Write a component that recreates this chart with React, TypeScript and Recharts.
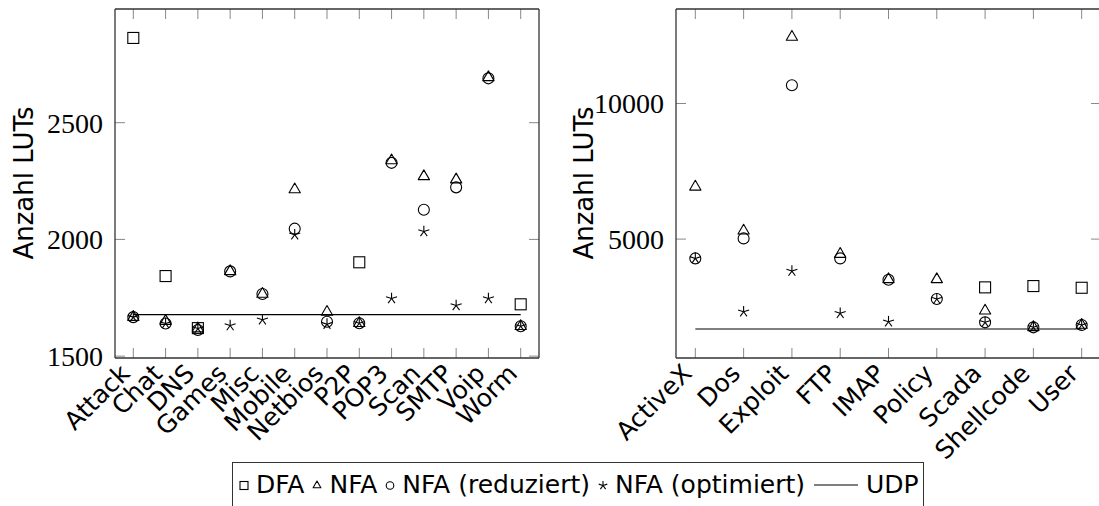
import { ComposedChart, Scatter, Line, XAxis, YAxis, ReferenceLine } from "recharts";

// left plot: general rule groups
const leftCats = ["Attack", "Chat", "DNS", "Games", "Misc", "Mobile", "Netbios", "P2P", "POP3", "Scan", "SMTP", "Voip", "Worm"];
const leftDfa = [2863, 1843, 1620, null, null, null, null, 1902, null, null, null, null, 1722];
const leftNfa = [1667, 1650, 1618, 1863, 1766, 2214, 1689, 1641, 2338, 2270, 2256, 2694, 1628];
const leftRed = [1667, 1640, 1612, 1863, 1766, 2046, 1647, 1641, 2328, 2127, 2223, 2690, 1628];
const leftOpt = [1667, 1640, 1618, 1631, 1656, 2020, 1637, 1641, 1747, 2034, 1717, 1747, 1628];
const leftUdp = [1678, 1678, 1678, 1678, 1678, 1678, 1678, 1678, 1678, 1678, 1678, 1678, 1678];
const leftTicks = [1500, 2000, 2500];

// right plot: larger rule groups
const rightCats = ["ActiveX", "Dos", "Exploit", "FTP", "IMAP", "Policy", "Scada", "Shellcode", "User"];
const rightDfa = [null, null, null, null, null, null, 3220, 3268, 3205];
const rightNfa = [6927, 5306, 12456, 4447, 3515, 3515, 2358, 1746, 1831];
const rightRed = [4288, 5025, 10675, 4288, 3500, 2789, 1930, 1746, 1831];
const rightOpt = [4288, 2321, 3821, 2262, 1953, 2789, 1930, 1746, 1831];
const rightUdp = [1684, 1684, 1684, 1684, 1684, 1684, 1684, 1684, 1684];
const rightTicks = [5000, 10000];

const SANS = "DejaVu Sans";
const SERIF = "Liberation Serif";
const FRAME = "#333";
const TICK = "#888";

const CH_W = 560;
const CH_H = 506;
const TOP = 9;
const BOTTOM_AX = 148;
const TICK_LEN = 10;

function mark(kind: string, cx: number, cy: number, s: number, key?: string) {
    const sw = 1.1;
    if (kind === "square") {
        return <rect key={key} x={cx - s} y={cy - s} width={2 * s} height={2 * s} fill="none" stroke="#000" strokeWidth={sw} />;
    }
    if (kind === "triangle") {
        const pts = `${cx},${cy - s} ${cx - 0.866 * s},${cy + 0.5 * s} ${cx + 0.866 * s},${cy + 0.5 * s}`;
        return <polygon key={key} points={pts} fill="none" stroke="#000" strokeWidth={sw} strokeLinejoin="round" />;
    }
    if (kind === "circle") {
        return <circle key={key} cx={cx} cy={cy} r={s} fill="none" stroke="#000" strokeWidth={sw} />;
    }
    // star: five spokes from the centre
    const spokes = [0, 1, 2, 3, 4].map((k) => {
        const a = (-90 + k * 72) * Math.PI / 180;
        return <line key={k} x1={cx} y1={cy} x2={cx + s * Math.cos(a)} y2={cy + s * Math.sin(a)} stroke="#000" strokeWidth={sw} />;
    });
    return <g key={key}>{spokes}</g>;
}

const SIZES: any = { square: 5.5, triangle: 6.5, circle: 5.5, star: 5.8 };

function shapeFor(kind: string, field: string) {
    return (p: any) => {
        const v = p.payload ? p.payload[field] : null;
        if (v == null || !Number.isFinite(p.cx) || !Number.isFinite(p.cy)) return <g />;
        return mark(kind, p.cx, p.cy, SIZES[kind]);
    };
}

const CatTick = (props: any) => {
    const { x, y, payload, cats } = props;
    const tx = x - 2;
    return (
        <text x={tx} y={y} transform={`rotate(-45 ${tx} ${y})`} textAnchor="end"
            fontFamily={SANS} fontSize={25} fill="#000">
            {cats[payload.value]}
        </text>
    );
};

const YTitle = () => (
    <text x={33} y={183} transform="rotate(-90 33 183)" textAnchor="middle"
        fontFamily={SANS} fontSize={26} fill="#000">
        Anzahl LUTs
    </text>
);

function Panel({ cats, dfa, nfa, red, opt, udp, yDomain, yTicks, xPad, leftW, rightW }: any) {
    const rows = cats.map((name: string, i: number) => ({
        i, name, dfa: dfa[i], nfa: nfa[i], red: red[i], opt: opt[i], udp: udp[i]
    }));
    const idx = cats.map((_: string, i: number) => i);
    const [x0, x1] = [-xPad, cats.length - 1 + xPad];
    const [y0, y1] = yDomain;

    // tick length (px) expressed in data units of each axis
    const plotW = CH_W - leftW - rightW;
    const plotH = CH_H - TOP - BOTTOM_AX;
    const dx = TICK_LEN * (x1 - x0) / plotW;
    const dy = TICK_LEN * (y1 - y0) / plotH;

    const ax = { xAxisId: "b", yAxisId: "l", ifOverflow: "visible" as const };
    const frame = { stroke: FRAME, strokeWidth: 1.3 };
    const tick = { stroke: TICK, strokeWidth: 1 };

    return (
        <ComposedChart width={CH_W} height={CH_H} data={rows} margin={{ top: TOP, right: 0, bottom: 0, left: 0 }}>
            <XAxis xAxisId="b" type="number" dataKey="i" domain={[x0, x1]} ticks={idx} interval={0}
                allowDataOverflow height={BOTTOM_AX} tickSize={0} tickMargin={17}
                axisLine={false} tickLine={false}
                tick={(p: any) => <CatTick {...p} cats={cats} />} />
            <YAxis yAxisId="l" type="number" domain={yDomain} ticks={yTicks} interval={0}
                allowDataOverflow width={leftW} tickSize={0} tickMargin={12}
                axisLine={false} tickLine={false}
                tick={{ fontFamily: SERIF, fontSize: 28, fill: "#000" }}
                label={<YTitle />} />
            <YAxis yAxisId="r" orientation="right" type="number" domain={yDomain} ticks={yTicks}
                interval={0} allowDataOverflow width={rightW} tick={false} axisLine={false} tickLine={false} />

            {idx.map((i: number) => (
                <ReferenceLine key={`tb${i}`} {...ax} {...tick} segment={[{ x: i, y: y0 }, { x: i, y: y0 + dy }]} />
            ))}
            {idx.map((i: number) => (
                <ReferenceLine key={`tt${i}`} {...ax} {...tick} segment={[{ x: i, y: y1 }, { x: i, y: y1 - dy }]} />
            ))}
            {yTicks.map((t: number) => (
                <ReferenceLine key={`tl${t}`} {...ax} {...tick} segment={[{ x: x0, y: t }, { x: x0 + dx, y: t }]} />
            ))}
            {yTicks.map((t: number) => (
                <ReferenceLine key={`tr${t}`} {...ax} {...tick} segment={[{ x: x1, y: t }, { x: x1 - dx, y: t }]} />
            ))}
            <ReferenceLine {...ax} {...frame} segment={[{ x: x0, y: y0 }, { x: x1, y: y0 }]} />
            <ReferenceLine {...ax} {...frame} segment={[{ x: x0, y: y1 }, { x: x1, y: y1 }]} />
            <ReferenceLine {...ax} {...frame} segment={[{ x: x0, y: y0 }, { x: x0, y: y1 }]} />
            <ReferenceLine {...ax} {...frame} segment={[{ x: x1, y: y0 }, { x: x1, y: y1 }]} />

            <Line xAxisId="b" yAxisId="l" dataKey="udp" dot={false} stroke="#000"
                strokeWidth={1.1} isAnimationActive={false} />
            <Scatter xAxisId="b" yAxisId="l" dataKey="dfa" shape={shapeFor("square", "dfa")} isAnimationActive={false} />
            <Scatter xAxisId="b" yAxisId="l" dataKey="nfa" shape={shapeFor("triangle", "nfa")} isAnimationActive={false} />
            <Scatter xAxisId="b" yAxisId="l" dataKey="red" shape={shapeFor("circle", "red")} isAnimationActive={false} />
            <Scatter xAxisId="b" yAxisId="l" dataKey="opt" shape={shapeFor("star", "opt")} isAnimationActive={false} />
        </ComposedChart>
    );
}

function LegendMark({ kind }: { kind: string }) {
    if (kind === "line") {
        return (
            <svg width={48} height={16} style={{ display: "block" }}>
                <line x1={2} y1={8} x2={46} y2={8} stroke="#000" strokeWidth={1.1} />
            </svg>
        );
    }
    const s = kind === "square" ? 4 : kind === "triangle" ? 4.5 : kind === "circle" ? 3.8 : 4.5;
    return (
        <svg width={12} height={16} style={{ display: "block" }}>
            {mark(kind, 6, 8.5, s)}
        </svg>
    );
}

const legendItems = [
    { kind: "square", label: "DFA" },
    { kind: "triangle", label: "NFA" },
    { kind: "circle", label: "NFA (reduziert)" },
    { kind: "star", label: "NFA (optimiert)" },
    { kind: "line", label: "UDP" }
];

export default function App() {
    return (
        <div style={{ position: "absolute", left: 0, top: 0, width: 1099, height: 506, overflow: "hidden", background: "#fff" }}>
            <div style={{ position: "absolute", left: 0, top: 0 }}>
                <Panel cats={leftCats} dfa={leftDfa} nfa={leftNfa} red={leftRed} opt={leftOpt} udp={leftUdp}
                    yDomain={[1492, 2987]} yTicks={leftTicks} xPad={0.567} leftW={115} rightW={21} />
            </div>
            <div style={{ position: "absolute", left: 560, top: 0 }}>
                <Panel cats={rightCats} dfa={rightDfa} nfa={rightNfa} red={rightRed} opt={rightOpt} udp={rightUdp}
                    yDomain={[615, 13486]} yTicks={rightTicks} xPad={0.4} leftW={116} rightW={19} />
            </div>
            <div style={{
                position: "absolute", left: 232, top: 462, height: 60, boxSizing: "border-box",
                border: "1.3px solid #333", padding: "7px 4px 0 5px", display: "flex", alignItems: "flex-start",
                fontFamily: SANS, fontSize: 25, whiteSpace: "nowrap", color: "#000"
            }}>
                {legendItems.map((it, k) => (
                    <div key={it.label} style={{ display: "flex", alignItems: "center", height: 29, marginRight: k < legendItems.length - 1 ? 7 : 0 }}>
                        <LegendMark kind={it.kind} />
                        <span style={{ marginLeft: 6, lineHeight: "29px" }}>{it.label}</span>
                    </div>
                ))}
            </div>
        </div>
    );
}
